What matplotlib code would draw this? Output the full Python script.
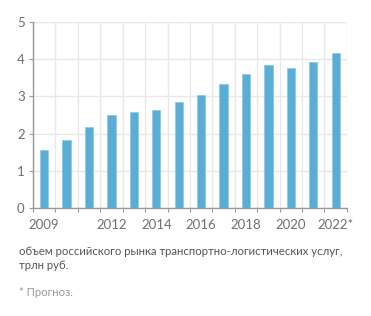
#!/usr/bin/env python3
"""Russian transport & logistics market volume, trillion rubles."""

import matplotlib
matplotlib.use("Agg")
import matplotlib.pyplot as plt

years = list(range(2009, 2023))
values = [1.56, 1.83, 2.17, 2.49, 2.58, 2.63, 2.84, 3.04, 3.34, 3.60, 3.85, 3.77, 3.93, 4.16]
tick_labels = ["2009", "", "", "2012", "", "2014", "", "2016", "", "2018", "", "2020", "", "2022*"]

GRAY = "#707070"
plt.rcParams["font.family"] = ["Lato", "DejaVu Sans"]

fig = plt.figure(figsize=(3.71, 3.16), dpi=100)
ax = fig.add_axes([0.089, 0.342, 0.846, 0.588])

pos = [i + 0.5 for i in range(len(years))]
ax.bar(pos, values, width=0.37, color="#5aadd7", edgecolor="#8cc6e4", linewidth=0.5, zorder=3)

ax.set_xlim(0, len(years))
ax.set_ylim(0, 5)
ax.set_yticks(range(6))
ax.set_xticks(range(len(years) + 1))
ax.set_xticklabels([])
ax.set_xticks(pos, minor=True)
ax.set_xticklabels(tick_labels, minor=True)
ax.tick_params(axis="x", which="minor", length=0, pad=8, labelsize=9.5, labelcolor=GRAY)
ax.tick_params(axis="x", which="major", length=3, color="#999999")
ax.tick_params(axis="y", length=3, color="#999999", labelsize=9.5, labelcolor=GRAY, pad=3)

ax.grid(True, color="#e8e8e8", linewidth=1, zorder=0)
for s in ("top", "right"):
    ax.spines[s].set_visible(False)
for s in ("left", "bottom"):
    ax.spines[s].set_color("#999999")
    ax.spines[s].set_linewidth(1)

fig.text(0.051, 0.182, "объем российского рынка транспортно-логистических услуг,\nтрлн руб.",
         fontsize=8.2, color="#555555", va="center", ha="left", linespacing=1.35)
fig.text(0.051, 0.073, "* Прогноз.", fontsize=8.2, color="#999999", va="center", ha="left")

fig.savefig("out.png", dpi=100)
